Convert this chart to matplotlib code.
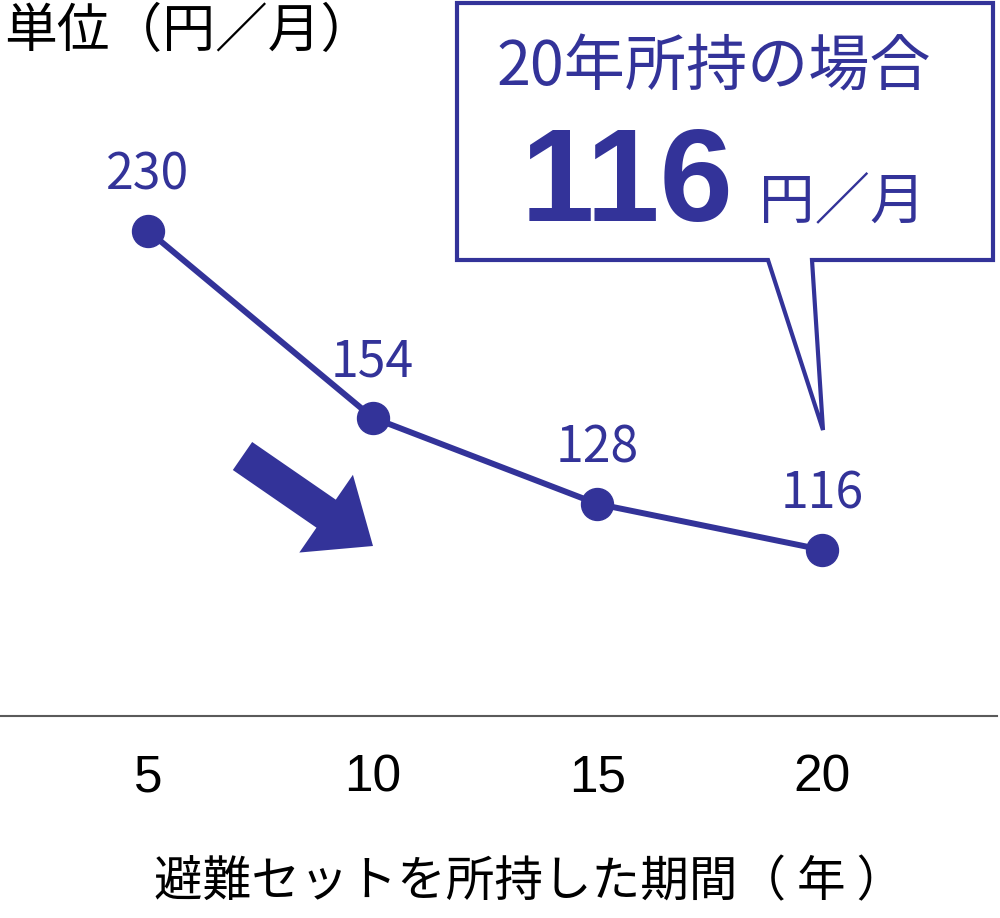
import matplotlib
matplotlib.use("Agg")
import matplotlib.pyplot as plt
from matplotlib import font_manager
from matplotlib.patches import Polygon, FancyArrowPatch, ArrowStyle

# data
years = [5, 10, 15, 20]
tick_labels = ["5", "10", "15", "20"]
cost = [230, 154, 128, 116]

unit_label = "単位（円／月）"
x_label = "避難セットを所持した期間（ 年 ）"
callout_title = "20年所持の場合"
callout_value = "116"
callout_unit = "円／月"

NAVY = "#333399"
JP = ["Noto Sans CJK JP", "DejaVu Sans"]

installed = {f.name for f in font_manager.fontManager.ttflist}
if "Liberation Sans Narrow" in installed:
    NARROW = ["Liberation Sans Narrow", "DejaVu Sans"]
else:
    NARROW = ["Liberation Sans", "DejaVu Sans"]

W, H = 1000, 918
fig = plt.figure(figsize=(W / 100, H / 100), dpi=100)
ax = fig.add_axes([0, 202 / H, 0.997, 716 / H])

ax.plot(years, cost, color=NAVY, lw=4.3, marker="o", ms=23, zorder=3)
for x, y in zip(years, cost):
    ax.annotate(str(y), (x, y), xytext=(0, 40), textcoords="offset points",
                ha="center", va="center", fontsize=36, color=NAVY, family=JP)

ax.set_yscale("log")
ax.set_ylim(81.2, 377.3)
ax.set_xlim(1.706, 23.895)
ax.get_yaxis().set_visible(False)
for s in ["left", "top", "right"]:
    ax.spines[s].set_visible(False)
ax.spines["bottom"].set_color("#5a5a5a")
ax.spines["bottom"].set_linewidth(1.5)
ax.set_xticks(years)
ax.set_xticklabels(tick_labels, family=NARROW)
ax.tick_params(axis="x", length=0, pad=27, labelsize=37, colors="black")
ax.set_xlabel(x_label, fontsize=35, family=JP, va="center")
ax.xaxis.set_label_coords(0.531, -0.233)

fig.text(0.004, 1 - 31 / H, unit_label, ha="left", va="center",
         fontsize=38, family=JP)

# callout box with tail
box_px = [(457, 3), (993, 3), (993, 260), (812, 260), (823, 430),
          (768, 260), (457, 260)]
box = Polygon([(px / W, 1 - py / H) for px, py in box_px], closed=True,
              transform=fig.transFigure, facecolor="white", edgecolor=NAVY,
              lw=3, joinstyle="miter", zorder=5)
fig.add_artist(box)
fig.text(714 / W, 1 - 68 / H, callout_title, ha="center", va="center",
         fontsize=44, color=NAVY, family=JP, zorder=6)
fig.text(627 / W, 1 - 186 / H, callout_value, ha="center", va="center",
         fontsize=95, color=NAVY, family=NARROW, weight="bold", zorder=6)
fig.text(842 / W, 1 - 202 / H, callout_unit, ha="center", va="center",
         fontsize=40, color=NAVY, family=JP, zorder=6)

# big downward arrow
arrow = FancyArrowPatch(posA=(242.5 / W, 1 - 456 / H), posB=(373 / W, 1 - 546 / H),
                        transform=fig.transFigure,
                        arrowstyle=ArrowStyle.Simple(head_length=41, head_width=68,
                                                     tail_width=24.5),
                        mutation_scale=1, shrinkA=0, shrinkB=0,
                        color=NAVY, lw=0)
fig.add_artist(arrow)

fig.savefig("out.png", dpi=100)
